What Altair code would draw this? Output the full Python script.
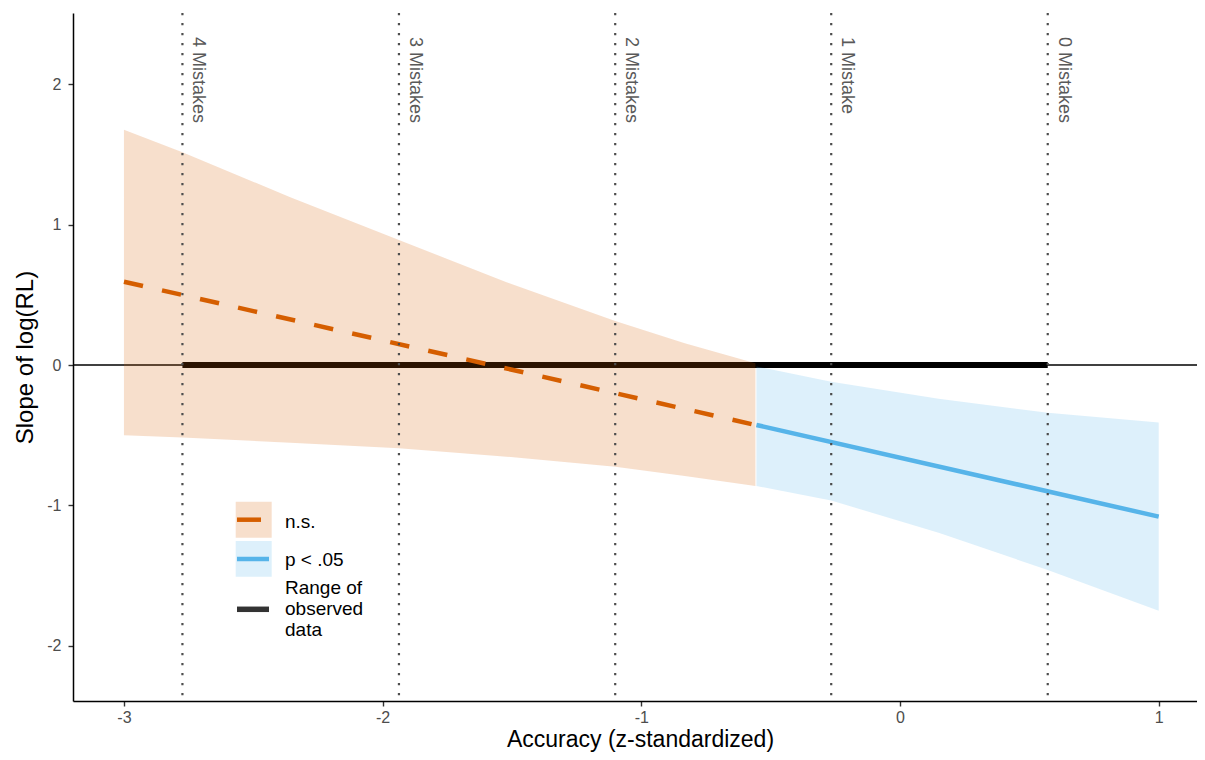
import altair as alt
import pandas as pd

# ---------------- data ----------------
# confidence band, non-significant region
ns_x = [-3.0, -2.774, -2.357, -1.937, -1.521, -1.101, -0.832, -0.559]
ns_upper = [1.675, 1.515, 1.195, 0.89, 0.59, 0.313, 0.155, 0.012]
ns_lower = [-0.50, -0.517, -0.553, -0.593, -0.653, -0.724, -0.79, -0.862]

# confidence band, significant region
sig_x = [-0.555, -0.266, 0.149, 0.571, 1.0]
sig_upper = [-0.01, -0.12, -0.24, -0.34, -0.41]
sig_lower = [-0.862, -0.965, -1.195, -1.46, -1.75]

# simple slope line
ns_line_x = [-3.0, -0.559]
ns_line_y = [0.593, -0.427]
sig_line_x = [-0.555, 1.0]
sig_line_y = [-0.427, -1.08]

# observed data range and mistake markers
observed_x = [-2.774]
observed_x2 = [0.571]
mistake_x = [-2.774, -1.937, -1.101, -0.266, 0.571]
mistake_labels = ["4 Mistakes", "3 Mistakes", "2 Mistakes", "1 Mistake", "0 Mistakes"]

x_ticks = [-3, -2, -1, 0, 1]
y_ticks = [-2, -1, 0, 1, 2]
legend_labels = ["n.s.", "p < .05", "Range of\nobserved\ndata"]

X_TITLE = "Accuracy (z-standardized)"
Y_TITLE = "Slope of log(RL)"
ORANGE = "#D55E00"
BLUE = "#56B4E9"
FONT = "Liberation Sans"

PLOT_W = 1124
PLOT_H = 688

# ---------------- scales / axes ----------------
label_expr = "datum.value < 0 ? '-' + format(-datum.value, 'd') : format(datum.value, 'd')"
xscale = alt.Scale(domain=[-3.197, 1.148], nice=False, zero=False)
yscale = alt.Scale(domain=[-2.393, 2.507], nice=False, zero=False)
axis_common = dict(
    grid=False, domainColor="black", domainWidth=1.5,
    tickColor="#333333", tickWidth=1.4, tickSize=5,
    labelColor="#4D4D4D", labelFontSize=16, labelFont=FONT,
    titleColor="black", titleFont=FONT, titleFontWeight="normal",
    labelExpr=label_expr,
)
xaxis = alt.Axis(values=x_ticks, labelPadding=3, titleX=567, titleY=27.5,
                 titleFontSize=23, titleBaseline="top", titleAlign="center",
                 **axis_common)
yaxis = alt.Axis(values=y_ticks, labelPadding=7, titleX=-36, titleY=344,
                 titleFontSize=24, titleBaseline="bottom", titleAlign="center",
                 **axis_common)


def X(field):
    return alt.X(field, type="quantitative", scale=xscale, axis=xaxis, title=X_TITLE)


def Y(field):
    return alt.Y(field, type="quantitative", scale=yscale, axis=yaxis, title=Y_TITLE)


# ---------------- frames ----------------
df_zero = pd.DataFrame({"y": [0]})
df_obs = pd.DataFrame({"x": observed_x, "x2": observed_x2, "y": [0]})
df_ns = pd.DataFrame({"x": ns_x, "lo": ns_lower, "hi": ns_upper})
df_sig = pd.DataFrame({"x": sig_x, "lo": sig_lower, "hi": sig_upper})
df_ns_line = pd.DataFrame({"x": ns_line_x, "y": ns_line_y})
df_sig_line = pd.DataFrame({"x": sig_line_x, "y": sig_line_y})
df_mist = pd.DataFrame({"x": mistake_x, "label": mistake_labels})
df_one = pd.DataFrame({"k": [0]})

zero_line = alt.Chart(df_zero).mark_rule(color="black", strokeWidth=1.4).encode(y=Y("y"))
obs_line = alt.Chart(df_obs).mark_rule(color="black", strokeWidth=6).encode(
    x=X("x"), x2="x2", y=Y("y"))
ns_band = alt.Chart(df_ns).mark_area(color=ORANGE, opacity=0.2).encode(
    x=X("x"), y=Y("lo"), y2="hi")
sig_band = alt.Chart(df_sig).mark_area(color=BLUE, opacity=0.2).encode(
    x=X("x"), y=Y("lo"), y2="hi")
ns_line = alt.Chart(df_ns_line).mark_line(
    color=ORANGE, strokeWidth=4.5, strokeDash=[19.5, 19.5]).encode(x=X("x"), y=Y("y"))
sig_line = alt.Chart(df_sig_line).mark_line(color=BLUE, strokeWidth=4.5).encode(
    x=X("x"), y=Y("y"))
vlines = alt.Chart(df_mist).mark_rule(
    color="#4D4D4D", strokeWidth=2.2, strokeDash=[2.2, 7.8]).encode(x=X("x"))
vlabels = alt.Chart(df_mist).mark_text(
    angle=90, align="left", baseline="alphabetic", dy=-11,
    fontSize=18, font=FONT, color="#595959").encode(
    x=X("x"), y=alt.value(24), text="label:N")

# ---------------- legend (drawn inside the panel) ----------------
leg = []
leg.append(alt.Chart(df_one).mark_rect(color=ORANGE, opacity=0.2).encode(
    x=alt.value(162.7), x2=alt.value(198.7), y=alt.value(488.7), y2=alt.value(524.7)))
leg.append(alt.Chart(df_one).mark_rect(color=BLUE, opacity=0.2).encode(
    x=alt.value(162.7), x2=alt.value(198.7), y=alt.value(528.0), y2=alt.value(563.7)))
leg.append(alt.Chart(df_one).mark_rule(color=ORANGE, strokeWidth=4.5).encode(
    x=alt.value(164), x2=alt.value(188), y=alt.value(506.7)))
leg.append(alt.Chart(df_one).mark_rule(color=BLUE, strokeWidth=4.5).encode(
    x=alt.value(164), x2=alt.value(196), y=alt.value(546)))
leg.append(alt.Chart(df_one).mark_rule(color="#333333", strokeWidth=5.5).encode(
    x=alt.value(164), x2=alt.value(196), y=alt.value(596.3)))
for lab, ypix in zip(legend_labels, [508.7, 547.0, 575.0]):
    leg.append(alt.Chart(pd.DataFrame({"t": [lab]})).mark_text(
        align="left", baseline="middle", fontSize=19, font=FONT, color="black",
        lineBreak="\n", lineHeight=21).encode(
        x=alt.value(212), y=alt.value(ypix), text="t:N"))

chart = alt.layer(
    zero_line, obs_line, ns_band, sig_band, ns_line, sig_line, vlines, vlabels, *leg
).properties(
    width=PLOT_W, height=PLOT_H,
    padding={"left": 65, "top": 5, "right": 0, "bottom": 51},
    autosize=alt.AutoSizeParams(type="none"),
    background="white",
).configure(font=FONT).configure_view(stroke=None)

chart.save("out.html", embed_options={"renderer": "svg", "actions": False})
